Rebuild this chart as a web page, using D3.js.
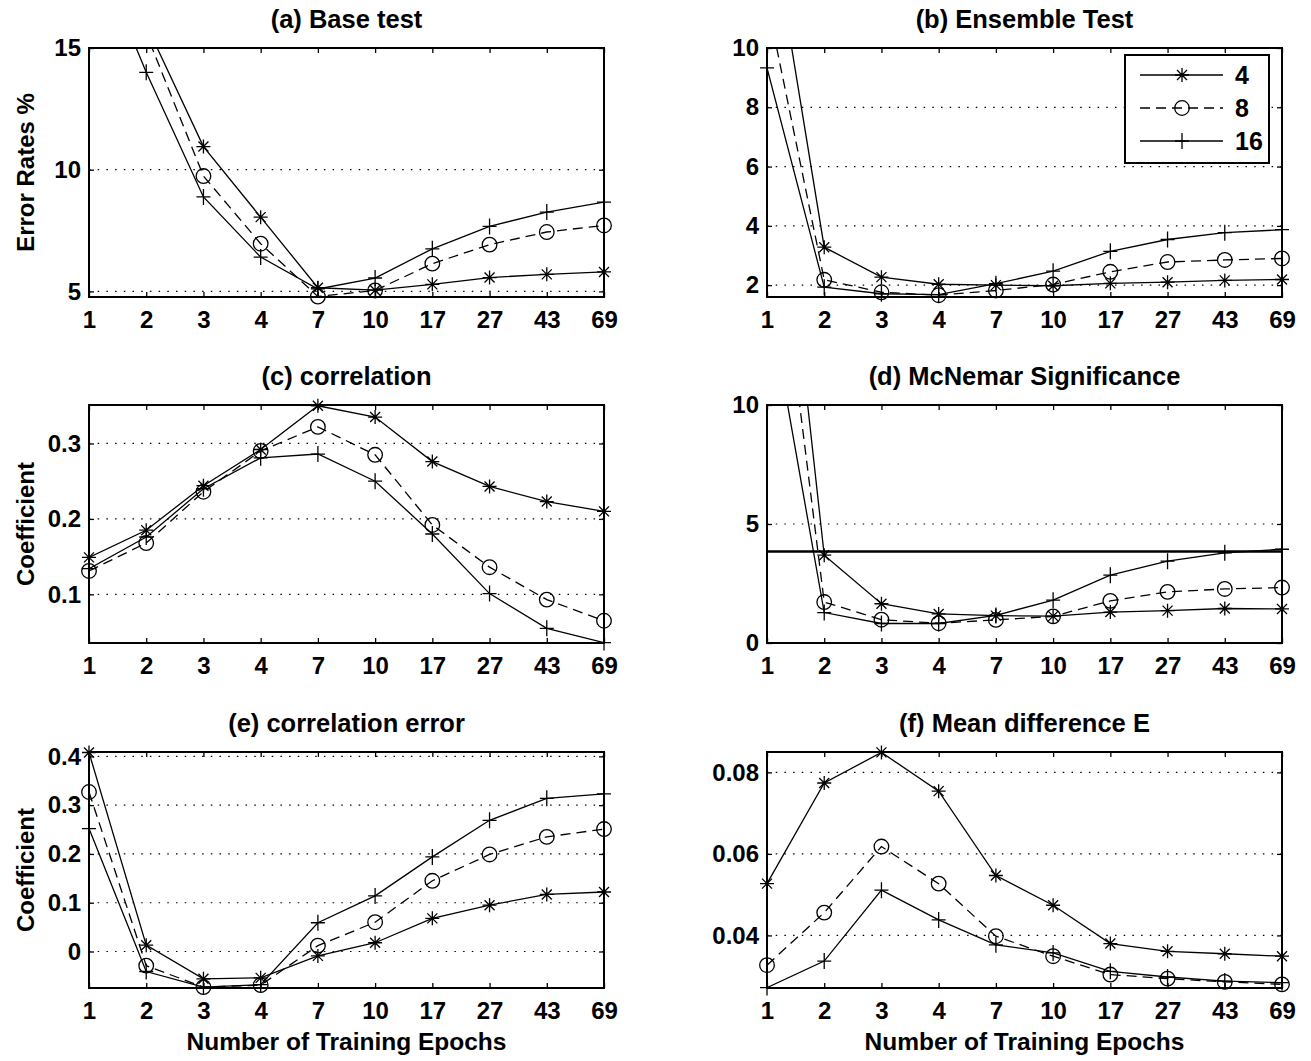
<!DOCTYPE html>
<html>
<head>
<meta charset="utf-8">
<script src="https://cdn.jsdelivr.net/npm/d3@7"></script>
<style>
body { margin: 0; background: #fff; }
svg { display: block; }
text { font-family: "Liberation Sans", Arial, Helvetica, sans-serif; font-weight: bold; fill: #000; }
</style>
</head>
<body>
<svg id="fig" width="1311" height="1061"></svg>
<script>
// categories (training epochs) and series names (ensemble size)
const epochs = ["1", "2", "3", "4", "7", "10", "17", "27", "43", "69"];
const seriesNames = ["4", "8", "16"];

// (a) base test error %
const baseTest4 = [24.0, 15.96, 10.95, 8.05, 5.15, 5.05, 5.29, 5.57, 5.70, 5.80];
const baseTest8 = [22.0, 15.6, 9.74, 6.96, 4.79, 5.04, 6.14, 6.92, 7.44, 7.71];
const baseTest16 = [19.7, 14.0, 8.88, 6.41, 5.10, 5.55, 6.75, 7.67, 8.26, 8.67];

// (b) ensemble test error %
const ensemble4 = [15.1, 3.28, 2.27, 2.03, 2.0, 1.98, 2.06, 2.10, 2.16, 2.19];
const ensemble8 = [11.6, 2.18, 1.76, 1.66, 1.82, 2.02, 2.45, 2.78, 2.85, 2.90];
const ensemble16 = [9.33, 1.93, 1.71, 1.68, 2.05, 2.47, 3.14, 3.54, 3.77, 3.87];

// (c) correlation
const corr4 = [0.149, 0.185, 0.244, 0.292, 0.350, 0.335, 0.276, 0.243, 0.223, 0.210];
const corr8 = [0.131, 0.168, 0.236, 0.290, 0.322, 0.285, 0.192, 0.136, 0.093, 0.065];
const corr16 = [0.134, 0.176, 0.240, 0.281, 0.286, 0.250, 0.180, 0.101, 0.055, 0.036];

// (d) McNemar significance
const mcnemar4 = [25.5, 3.69, 1.65, 1.22, 1.15, 1.13, 1.30, 1.36, 1.45, 1.43];
const mcnemar8 = [21.0, 1.72, 0.98, 0.83, 0.97, 1.12, 1.77, 2.15, 2.27, 2.33];
const mcnemar16 = [14.9, 1.28, 0.82, 0.82, 1.16, 1.80, 2.85, 3.44, 3.79, 3.94];
const mcnemarThreshold = 3.84;

// (e) correlation error
const corrErr4 = [0.408, 0.013, -0.056, -0.054, -0.009, 0.018, 0.068, 0.095, 0.117, 0.122];
const corrErr8 = [0.327, -0.029, -0.073, -0.069, 0.012, 0.060, 0.145, 0.199, 0.235, 0.251];
const corrErr16 = [0.252, -0.041, -0.073, -0.068, 0.059, 0.114, 0.194, 0.269, 0.314, 0.323];

// (f) mean difference E
const meanDiff4 = [0.0527, 0.0774, 0.0849, 0.0754, 0.0547, 0.0474, 0.0380, 0.0361, 0.0355, 0.0349];
const meanDiff8 = [0.0327, 0.0456, 0.0618, 0.0527, 0.0398, 0.0349, 0.0304, 0.0294, 0.0286, 0.0280];
const meanDiff16 = [0.0272, 0.0337, 0.0511, 0.0438, 0.0377, 0.0357, 0.0312, 0.0298, 0.0288, 0.0284];

const panels = [
    { title: "(a) Base test", data: [baseTest4, baseTest8, baseTest16], ylim: [4.77, 15], yticks: [5, 10, 15], ylabel: "Error Rates %", col: 0, row: 0 },
    { title: "(b) Ensemble Test", data: [ensemble4, ensemble8, ensemble16], ylim: [1.6, 10], yticks: [2, 4, 6, 8, 10], col: 1, row: 0, legend: true },
    { title: "(c) correlation", data: [corr4, corr8, corr16], ylim: [0.0355, 0.351], yticks: [0.1, 0.2, 0.3], ylabel: "Coefficient", col: 0, row: 1 },
    { title: "(d) McNemar Significance", data: [mcnemar4, mcnemar8, mcnemar16], ylim: [0, 10], yticks: [0, 5, 10], col: 1, row: 1, threshold: mcnemarThreshold },
    { title: "(e) correlation error", data: [corrErr4, corrErr8, corrErr16], ylim: [-0.0748, 0.409], yticks: [0, 0.1, 0.2, 0.3, 0.4], ylabel: "Coefficient", col: 0, row: 2, xlabel: "Number of Training Epochs" },
    { title: "(f) Mean difference E", data: [meanDiff4, meanDiff8, meanDiff16], ylim: [0.0271, 0.0850], yticks: [0.04, 0.06, 0.08], col: 1, row: 2, xlabel: "Number of Training Epochs" }
];

// layout
const cols = [[89, 604], [767, 1282]];
const rows = [[48, 297], [405, 643], [752, 988]];
const dashes = [null, "10,6", null];
const markers = ["star", "circle", "plus"];

const svg = d3.select("#fig");

function drawMarker(g, type, cx, cy) {
    if (type === "circle") {
        g.append("circle").attr("cx", cx).attr("cy", cy).attr("r", 7.3)
            .attr("fill", "none").attr("stroke", "#000").attr("stroke-width", 1.3);
    } else if (type === "plus") {
        g.append("path").attr("d", `M${cx - 7},${cy}H${cx + 7}M${cx},${cy - 8}V${cy + 8}`)
            .attr("stroke", "#000").attr("stroke-width", 1.3);
    } else {
        const s = 7, d = 5;
        g.append("path")
            .attr("d", `M${cx - s},${cy}H${cx + s}M${cx},${cy - s}V${cy + s}M${cx - d},${cy - d}L${cx + d},${cy + d}M${cx - d},${cy + d}L${cx + d},${cy - d}`)
            .attr("stroke", "#000").attr("stroke-width", 1.3);
    }
}

panels.forEach((p, k) => {
    const [x0, x1] = cols[p.col];
    const [y0, y1] = rows[p.row];
    const x = d3.scalePoint().domain(epochs).range([x0, x1]);
    const y = d3.scaleLinear().domain(p.ylim).range([y1, y0]);
    const g = svg.append("g");

    g.append("clipPath").attr("id", "clip" + k)
        .append("rect").attr("x", x0).attr("y", y0).attr("width", x1 - x0).attr("height", y1 - y0);

    // dotted grid
    g.selectAll(".grid").data(p.yticks).enter().append("line")
        .attr("x1", x0).attr("x2", x1)
        .attr("y1", (d) => y(d)).attr("y2", (d) => y(d))
        .attr("stroke", "#000").attr("stroke-width", 1.2)
        .attr("stroke-dasharray", "1.5,7.2");

    // series lines
    const line = d3.line().x((d, i) => x(epochs[i])).y((d) => y(d));
    p.data.forEach((vals, s) => {
        g.append("path").datum(vals)
            .attr("d", line)
            .attr("fill", "none").attr("stroke", "#000").attr("stroke-width", 1.3)
            .attr("stroke-dasharray", dashes[s])
            .attr("clip-path", `url(#clip${k})`);
    });

    // markers (only inside the y range)
    p.data.forEach((vals, s) => {
        vals.forEach((v, i) => {
            if (v >= p.ylim[0] - 1e-4 && v <= p.ylim[1] + 1e-4) {
                drawMarker(g, markers[s], x(epochs[i]), y(v));
            }
        });
    });

    if (p.threshold !== undefined) {
        g.append("line").attr("x1", x0).attr("x2", x1)
            .attr("y1", y(p.threshold)).attr("y2", y(p.threshold))
            .attr("stroke", "#000").attr("stroke-width", 2.5);
    }

    // axes with inward ticks
    const fontSize = 24;
    const ax = g.append("g").attr("transform", `translate(0,${y1})`)
        .call(d3.axisBottom(x).tickSize(-5).tickPadding(14));
    ax.select(".domain").remove();
    ax.selectAll("text").attr("font-size", fontSize).attr("font-family", null);
    ax.selectAll("line").attr("stroke-width", 1.3);

    const axTop = g.append("g").attr("transform", `translate(0,${y0})`)
        .call(d3.axisTop(x).tickSize(-5).tickFormat(""));
    axTop.select(".domain").remove();
    axTop.selectAll("line").attr("stroke-width", 1.3);

    const ay = g.append("g").attr("transform", `translate(${x0},0)`)
        .call(d3.axisLeft(y).tickValues(p.yticks).tickSize(-5).tickPadding(8).tickFormat(d3.format("~g")));
    ay.select(".domain").remove();
    ay.selectAll("text").attr("font-size", fontSize).attr("font-family", null);
    ay.selectAll("line").attr("stroke-width", 1.3);

    const ayR = g.append("g").attr("transform", `translate(${x1},0)`)
        .call(d3.axisRight(y).tickValues(p.yticks).tickSize(-5).tickFormat(""));
    ayR.select(".domain").remove();
    ayR.selectAll("line").attr("stroke-width", 1.3);

    // box
    g.append("rect").attr("x", x0).attr("y", y0).attr("width", x1 - x0).attr("height", y1 - y0)
        .attr("fill", "none").attr("stroke", "#000").attr("stroke-width", 2);

    // title
    g.append("text").attr("x", (x0 + x1) / 2).attr("y", y0 - 20)
        .attr("text-anchor", "middle").attr("font-size", 25.5).text(p.title);

    if (p.ylabel) {
        g.append("text")
            .attr("transform", `translate(34,${(y0 + y1) / 2}) rotate(-90)`)
            .attr("text-anchor", "middle").attr("font-size", 24).text(p.ylabel);
    }
    if (p.xlabel) {
        g.append("text").attr("x", (x0 + x1) / 2).attr("y", y1 + 62)
            .attr("text-anchor", "middle").attr("font-size", 24.5).text(p.xlabel);
    }

    if (p.legend) {
        const lx = 1125, ly = 55, lw = 144, lh = 108;
        const lg = g.append("g");
        lg.append("rect").attr("x", lx).attr("y", ly).attr("width", lw).attr("height", lh)
            .attr("fill", "#fff").attr("stroke", "#000").attr("stroke-width", 2);
        seriesNames.forEach((name, s) => {
            const yy = ly + 20 + s * 33;
            lg.append("line").attr("x1", lx + 15).attr("x2", lx + 98)
                .attr("y1", yy).attr("y2", yy)
                .attr("stroke", "#000").attr("stroke-width", 1.3)
                .attr("stroke-dasharray", dashes[s]);
            drawMarker(lg, markers[s], lx + 57, yy);
            lg.append("text").attr("x", lx + 110).attr("y", yy).attr("dy", "0.35em")
                .attr("font-size", 25).text(name);
        });
    }
});
</script>
</body>
</html>
